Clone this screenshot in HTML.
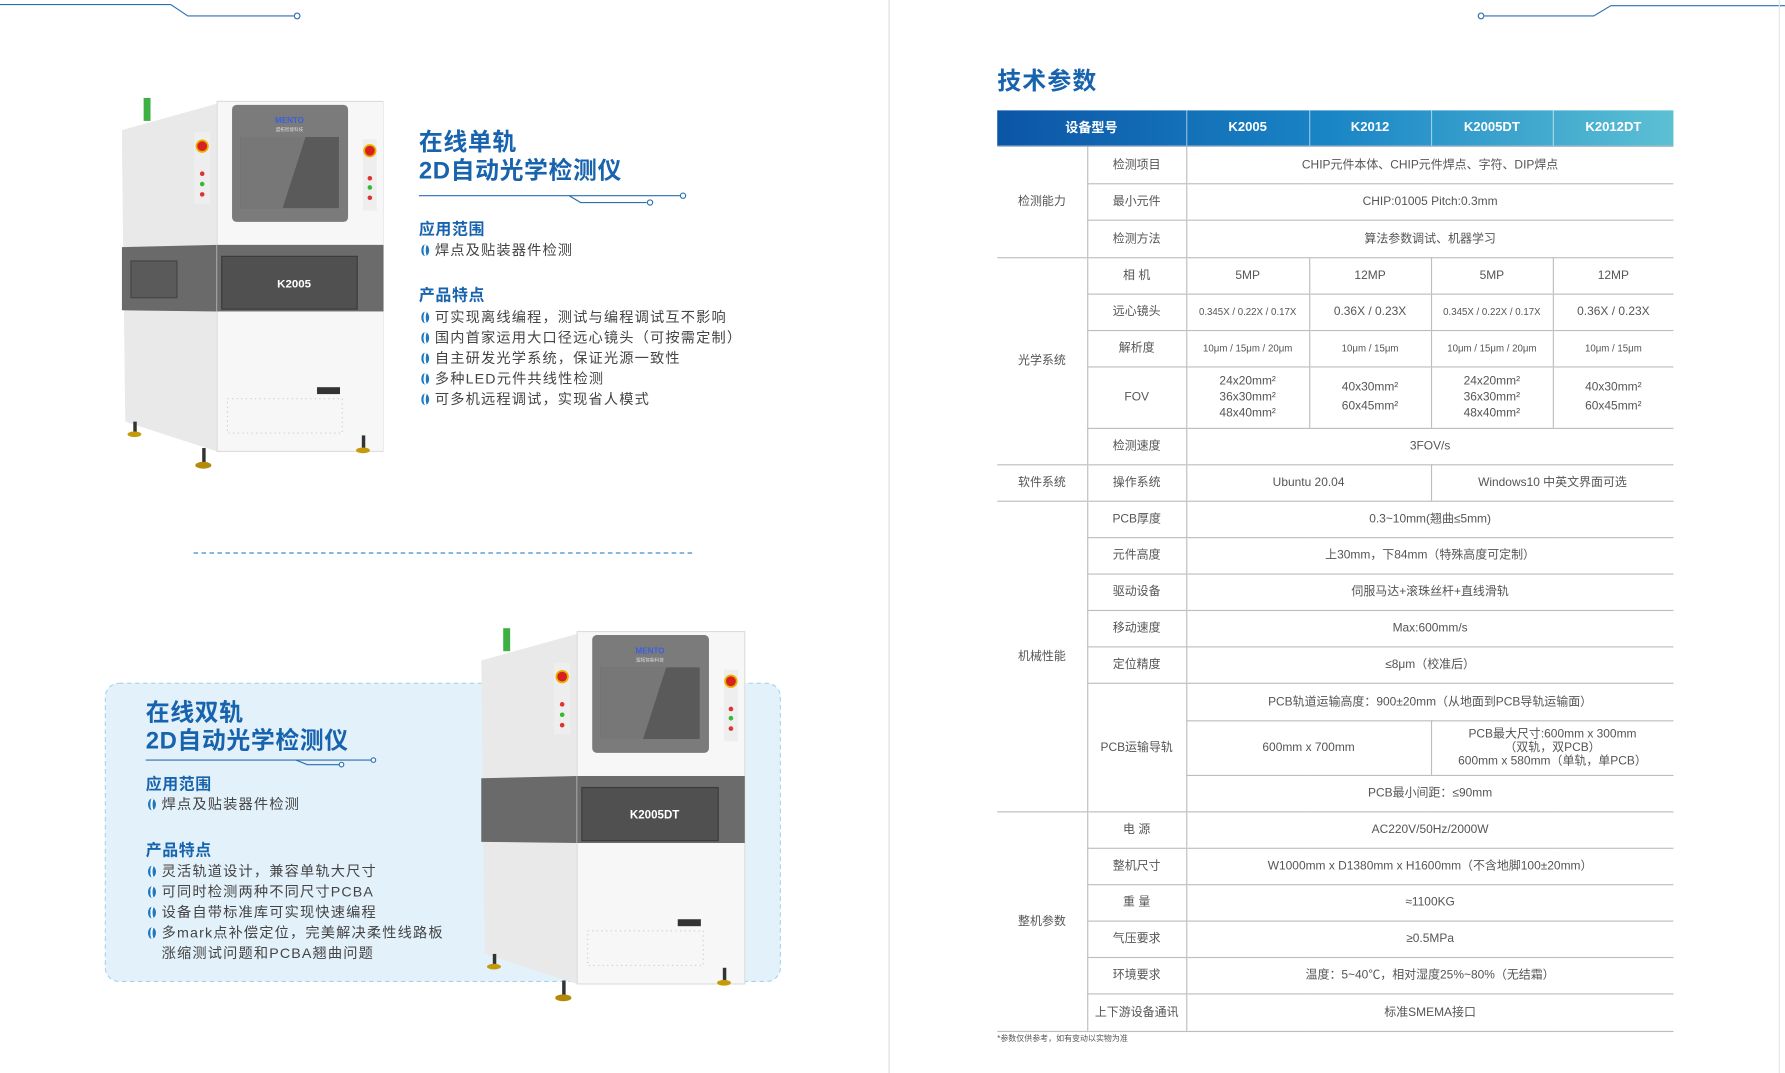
<!DOCTYPE html>
<html><head><meta charset="utf-8"><style>
*{margin:0;padding:0;box-sizing:border-box}
html,body{width:1785px;height:1073px;overflow:hidden;background:#fff}
#w{position:absolute;left:0;top:0;width:1568px;height:943px;transform:scale(1.13839,1.13786);transform-origin:0 0;font-family:"Liberation Sans","Noto Sans CJK SC",sans-serif;color:#444}
.a{position:absolute}
.h1{font-weight:bold;color:#1763ad;font-size:21px;line-height:25px;white-space:nowrap;letter-spacing:0.5px}
.h2{font-weight:bold;color:#1763ad;font-size:14px;white-space:nowrap;letter-spacing:0.5px}
.li{font-size:12.5px;color:#444;white-space:nowrap;line-height:18px;letter-spacing:1px}
.li i{display:inline-block;width:7px;height:10px;border-radius:50%;background:#1c78c0;margin-right:5px;vertical-align:-1px;border-left:2px solid #1c78c0;box-shadow:inset 2px 0 0 #fff}
table{position:absolute;left:876px;top:97px;width:594px;border-collapse:collapse;table-layout:fixed}
td{font-size:10.5px;color:#555;text-align:center;vertical-align:middle;border-bottom:1px solid #bdbdbd;border-left:1px solid #bdbdbd;line-height:14px;padding:0}
td.g{border-left:none}
td.s{font-size:8.5px}
th{color:#fff;font-size:11.5px;font-weight:bold;height:31px;border-left:1px solid #fff8;border-bottom:1px solid #9ab}
</style></head><body><div id="w">
<svg class="a" style="left:0;top:0" width="1568" height="943">
<polyline points="0,4 150,4 165,14 258,14" fill="none" stroke="#2a6fb0" stroke-width="1"/>
<circle cx="261" cy="14" r="2.5" fill="#fff" stroke="#2a6fb0"/>
<polyline points="1304,14 1400,14 1415,5 1568,5" fill="none" stroke="#2a6fb0" stroke-width="1"/>
<circle cx="1301" cy="14" r="2.5" fill="#fff" stroke="#2a6fb0"/>
<line x1="781" y1="0" x2="781" y2="943" stroke="#ddd"/>
<line x1="1563" y1="0" x2="1563" y2="943" stroke="#e6e6e6"/>
<polyline points="368,172 500,172 510,178 568,178" fill="none" stroke="#2a6fb0"/>
<line x1="500" y1="172" x2="598" y2="172" stroke="#2a6fb0"/>
<circle cx="571" cy="178" r="2.3" fill="#fff" stroke="#2a6fb0"/><circle cx="600" cy="172" r="2.3" fill="#fff" stroke="#2a6fb0"/>
<line x1="170" y1="486" x2="608" y2="486" stroke="#3a8fc8" stroke-dasharray="4,3"/>
<rect x="92.5" y="600.5" width="593" height="262" rx="12" fill="#e3f1fa" stroke="#a9d3ee" stroke-dasharray="4,3"/>
<polyline points="128,668 260,668 270,672 298,672" fill="none" stroke="#2a6fb0"/>
<line x1="260" y1="668" x2="326" y2="668" stroke="#2a6fb0"/>
<circle cx="300" cy="672" r="2" fill="#fff" stroke="#2a6fb0"/><circle cx="328" cy="668" r="2" fill="#fff" stroke="#2a6fb0"/>
</svg>

<svg class="a" style="left:107px;top:85px" width="230" height="330" viewBox="0 0 228 325">
<rect x="19" y="0" width="6" height="20" fill="#3cb043"/>
<polygon points="0,28 83,5 83,308 3,282" fill="#e9e9e9"/>
<polygon points="0,130 83,128 83,186 0,185" fill="#6a6a6a"/>
<rect x="8" y="142" width="40" height="32" fill="#5a5a5a" stroke="#444"/>
<rect x="83" y="3" width="145" height="305" fill="#f7f7f7" stroke="#ddd"/>
<rect x="96" y="6" width="101" height="102" rx="4" fill="#7b7b7b"/>
<rect x="103" y="34" width="86" height="62" fill="#5a5a5a"/>
<polygon points="103,34 160,34 140,96 103,96" fill="#777"/>
<text x="146" y="22" font-size="7" font-weight="bold" fill="#3b5fe0" text-anchor="middle">MENTO</text>
<text x="146" y="29" font-size="4" fill="#ddd" text-anchor="middle">盟拓智能科技</text>
<rect x="83" y="128" width="145" height="58" fill="#6b6b6b"/>
<rect x="87" y="138" width="118" height="46" fill="#505050" stroke="#3a3a3a"/>
<text x="150" y="165" font-size="10" font-weight="bold" fill="#fff" text-anchor="middle">K2005</text>
<rect x="63" y="30" width="14" height="62" fill="#eee"/>
<circle cx="70" cy="42" r="5" fill="#d92020" stroke="#e8b100" stroke-width="1.5"/>
<circle cx="70" cy="66" r="2" fill="#d33"/><circle cx="70" cy="75" r="2" fill="#3b3"/><circle cx="70" cy="84" r="2" fill="#d33"/>
<rect x="210" y="36" width="12" height="62" fill="#eee"/>
<circle cx="216" cy="46" r="5" fill="#d92020" stroke="#e8b100" stroke-width="1.5"/>
<circle cx="216" cy="70" r="2" fill="#d33"/><circle cx="216" cy="78" r="2" fill="#3b3"/><circle cx="216" cy="87" r="2" fill="#d33"/>
<rect x="92" y="262" width="100" height="30" fill="none" stroke="#ccc" stroke-dasharray="1,3"/>
<rect x="170" y="252" width="20" height="6" fill="#333"/>
<rect x="10" y="282" width="3" height="10" fill="#333"/><ellipse cx="11" cy="293" rx="6" ry="2.5" fill="#c49a0a"/>
<rect x="70" y="305" width="3" height="14" fill="#333"/><ellipse cx="71" cy="320" rx="7" ry="3" fill="#b38a0a"/>
<rect x="209" y="294" width="3" height="12" fill="#333"/><ellipse cx="210" cy="307" rx="6" ry="2.5" fill="#c49a0a"/>
</svg>

<svg class="a" style="left:420px;top:552px" width="237" height="330" viewBox="0 0 228 325">
<rect x="19" y="0" width="6" height="20" fill="#3cb043"/>
<polygon points="0,28 83,5 83,308 3,282" fill="#e9e9e9"/>
<polygon points="0,130 83,128 83,186 0,185" fill="#6a6a6a"/>
<rect x="83" y="3" width="145" height="305" fill="#f7f7f7" stroke="#ddd"/>
<rect x="96" y="6" width="101" height="102" rx="4" fill="#7b7b7b"/>
<rect x="103" y="34" width="86" height="62" fill="#5a5a5a"/>
<polygon points="103,34 160,34 140,96 103,96" fill="#777"/>
<text x="146" y="22" font-size="7" font-weight="bold" fill="#3b5fe0" text-anchor="middle">MENTO</text>
<text x="146" y="29" font-size="4" fill="#ddd" text-anchor="middle">盟拓智能科技</text>
<rect x="83" y="128" width="145" height="58" fill="#6b6b6b"/>
<rect x="87" y="138" width="118" height="46" fill="#505050" stroke="#3a3a3a"/>
<text x="150" y="165" font-size="10" font-weight="bold" fill="#fff" text-anchor="middle">K2005DT</text>
<rect x="63" y="30" width="14" height="62" fill="#eee"/>
<circle cx="70" cy="42" r="5" fill="#d92020" stroke="#e8b100" stroke-width="1.5"/>
<circle cx="70" cy="66" r="2" fill="#d33"/><circle cx="70" cy="75" r="2" fill="#3b3"/><circle cx="70" cy="84" r="2" fill="#d33"/>
<rect x="210" y="36" width="12" height="62" fill="#eee"/>
<circle cx="216" cy="46" r="5" fill="#d92020" stroke="#e8b100" stroke-width="1.5"/>
<circle cx="216" cy="70" r="2" fill="#d33"/><circle cx="216" cy="78" r="2" fill="#3b3"/><circle cx="216" cy="87" r="2" fill="#d33"/>
<rect x="92" y="262" width="100" height="30" fill="none" stroke="#ccc" stroke-dasharray="1,3"/>
<rect x="170" y="252" width="20" height="6" fill="#333"/>
<rect x="10" y="282" width="3" height="10" fill="#333"/><ellipse cx="11" cy="293" rx="6" ry="2.5" fill="#c49a0a"/>
<rect x="70" y="305" width="3" height="14" fill="#333"/><ellipse cx="71" cy="320" rx="7" ry="3" fill="#b38a0a"/>
<rect x="209" y="294" width="3" height="12" fill="#333"/><ellipse cx="210" cy="307" rx="6" ry="2.5" fill="#c49a0a"/>
</svg>

<div class="a h1" style="left:368px;top:113px">在线单轨<br>2D自动光学检测仪</div>
<div class="a h2" style="left:368px;top:191px">应用范围</div>
<div class="a li" style="left:370px;top:211px"><i></i>焊点及贴装器件检测</div>
<div class="a h2" style="left:368px;top:249px">产品特点</div>
<div class="a li" style="left:370px;top:270px"><i></i>可实现离线编程，测试与编程调试互不影响<br><i></i>国内首家运用大口径远心镜头（可按需定制）<br><i></i>自主研发光学系统，保证光源一致性<br><i></i>多种LED元件共线性检测<br><i></i>可多机远程调试，实现省人模式</div>

<div class="a h1" style="left:128px;top:614px">在线双轨<br>2D自动光学检测仪</div>
<div class="a h2" style="left:128px;top:679px">应用范围</div>
<div class="a li" style="left:130px;top:698px"><i></i>焊点及贴装器件检测</div>
<div class="a h2" style="left:128px;top:737px">产品特点</div>
<div class="a li" style="left:130px;top:757px"><i></i>灵活轨道设计，兼容单轨大尺寸<br><i></i>可同时检测两种不同尺寸PCBA<br><i></i>设备自带标准库可实现快速编程<br><i></i>多mark点补偿定位，完美解决柔性线路板<br><span style="padding-left:12px">涨缩测试问题和PCBA翘曲问题</span></div>

<div class="a" style="left:876px;top:55px;font-size:21px;font-weight:bold;color:#1763ad;letter-spacing:1px">技术参数</div>
<div class="a" style="left:876px;top:97px;width:594px;height:31px;background:linear-gradient(90deg,#0c55a6,#1a86c6 50%,#5cc0d4)"></div>
<table>
<colgroup><col style="width:79px"><col style="width:87px"><col style="width:108px"><col style="width:107px"><col style="width:107px"><col style="width:106px"></colgroup>
<tr><th colspan="2" style="border-left:none">设备型号</th><th>K2005</th><th>K2012</th><th>K2005DT</th><th>K2012DT</th></tr>
<tr style="height:33px"><td class="g" rowspan="3">检测能力</td><td>检测项目</td><td colspan="4">CHIP元件本体、CHIP元件焊点、字符、DIP焊点</td></tr>
<tr style="height:32px"><td>最小元件</td><td colspan="4">CHIP:01005 Pitch:0.3mm</td></tr>
<tr style="height:33px"><td>检测方法</td><td colspan="4">算法参数调试、机器学习</td></tr>
<tr style="height:32px"><td class="g" rowspan="5">光学系统</td><td>相 机</td><td>5MP</td><td>12MP</td><td>5MP</td><td>12MP</td></tr>
<tr style="height:32px"><td>远心镜头</td><td class="s">0.345X / 0.22X / 0.17X</td><td>0.36X / 0.23X</td><td class="s">0.345X / 0.22X / 0.17X</td><td>0.36X / 0.23X</td></tr>
<tr style="height:32px"><td>解析度</td><td class="s">10μm / 15μm / 20μm</td><td class="s">10μm / 15μm</td><td class="s">10μm / 15μm / 20μm</td><td class="s">10μm / 15μm</td></tr>
<tr style="height:54px"><td>FOV</td><td>24x20mm²<br>36x30mm²<br>48x40mm²</td><td style="line-height:17px">40x30mm²<br>60x45mm²</td><td>24x20mm²<br>36x30mm²<br>48x40mm²</td><td style="line-height:17px">40x30mm²<br>60x45mm²</td></tr>
<tr style="height:32px"><td>检测速度</td><td colspan="4">3FOV/s</td></tr>
<tr style="height:32px"><td class="g">软件系统</td><td>操作系统</td><td colspan="2">Ubuntu 20.04</td><td colspan="2">Windows10 中英文界面可选</td></tr>
<tr style="height:32px"><td class="g" rowspan="8">机械性能</td><td>PCB厚度</td><td colspan="4">0.3~10mm(翘曲≤5mm)</td></tr>
<tr style="height:32px"><td>元件高度</td><td colspan="4">上30mm，下84mm（特殊高度可定制）</td></tr>
<tr style="height:32px"><td>驱动设备</td><td colspan="4">伺服马达+滚珠丝杆+直线滑轨</td></tr>
<tr style="height:32px"><td>移动速度</td><td colspan="4">Max:600mm/s</td></tr>
<tr style="height:32px"><td>定位精度</td><td colspan="4">≤8μm（校准后）</td></tr>
<tr style="height:33px"><td rowspan="3">PCB运输导轨</td><td colspan="4">PCB轨道运输高度：900±20mm（从地面到PCB导轨运输面）</td></tr>
<tr style="height:48px"><td colspan="2">600mm x 700mm</td><td colspan="2" style="line-height:12px">PCB最大尺寸:600mm x 300mm<br>（双轨，双PCB）<br>600mm x 580mm（单轨，单PCB）</td></tr>
<tr style="height:32px"><td colspan="4">PCB最小间距：≤90mm</td></tr>
<tr style="height:32px"><td class="g" rowspan="6">整机参数</td><td>电 源</td><td colspan="4">AC220V/50Hz/2000W</td></tr>
<tr style="height:32px"><td>整机尺寸</td><td colspan="4">W1000mm x D1380mm x H1600mm（不含地脚100±20mm）</td></tr>
<tr style="height:32px"><td>重 量</td><td colspan="4">≈1100KG</td></tr>
<tr style="height:32px"><td>气压要求</td><td colspan="4">≥0.5MPa</td></tr>
<tr style="height:32px"><td>环境要求</td><td colspan="4">温度：5~40℃，相对湿度25%~80%（无结霜）</td></tr>
<tr style="height:33px"><td>上下游设备通讯</td><td colspan="4">标准SMEMA接口</td></tr>
</table>
<div class="a" style="left:876px;top:908px;font-size:7px;color:#555">*参数仅供参考，如有变动以实物为准</div>
</div></body></html>
